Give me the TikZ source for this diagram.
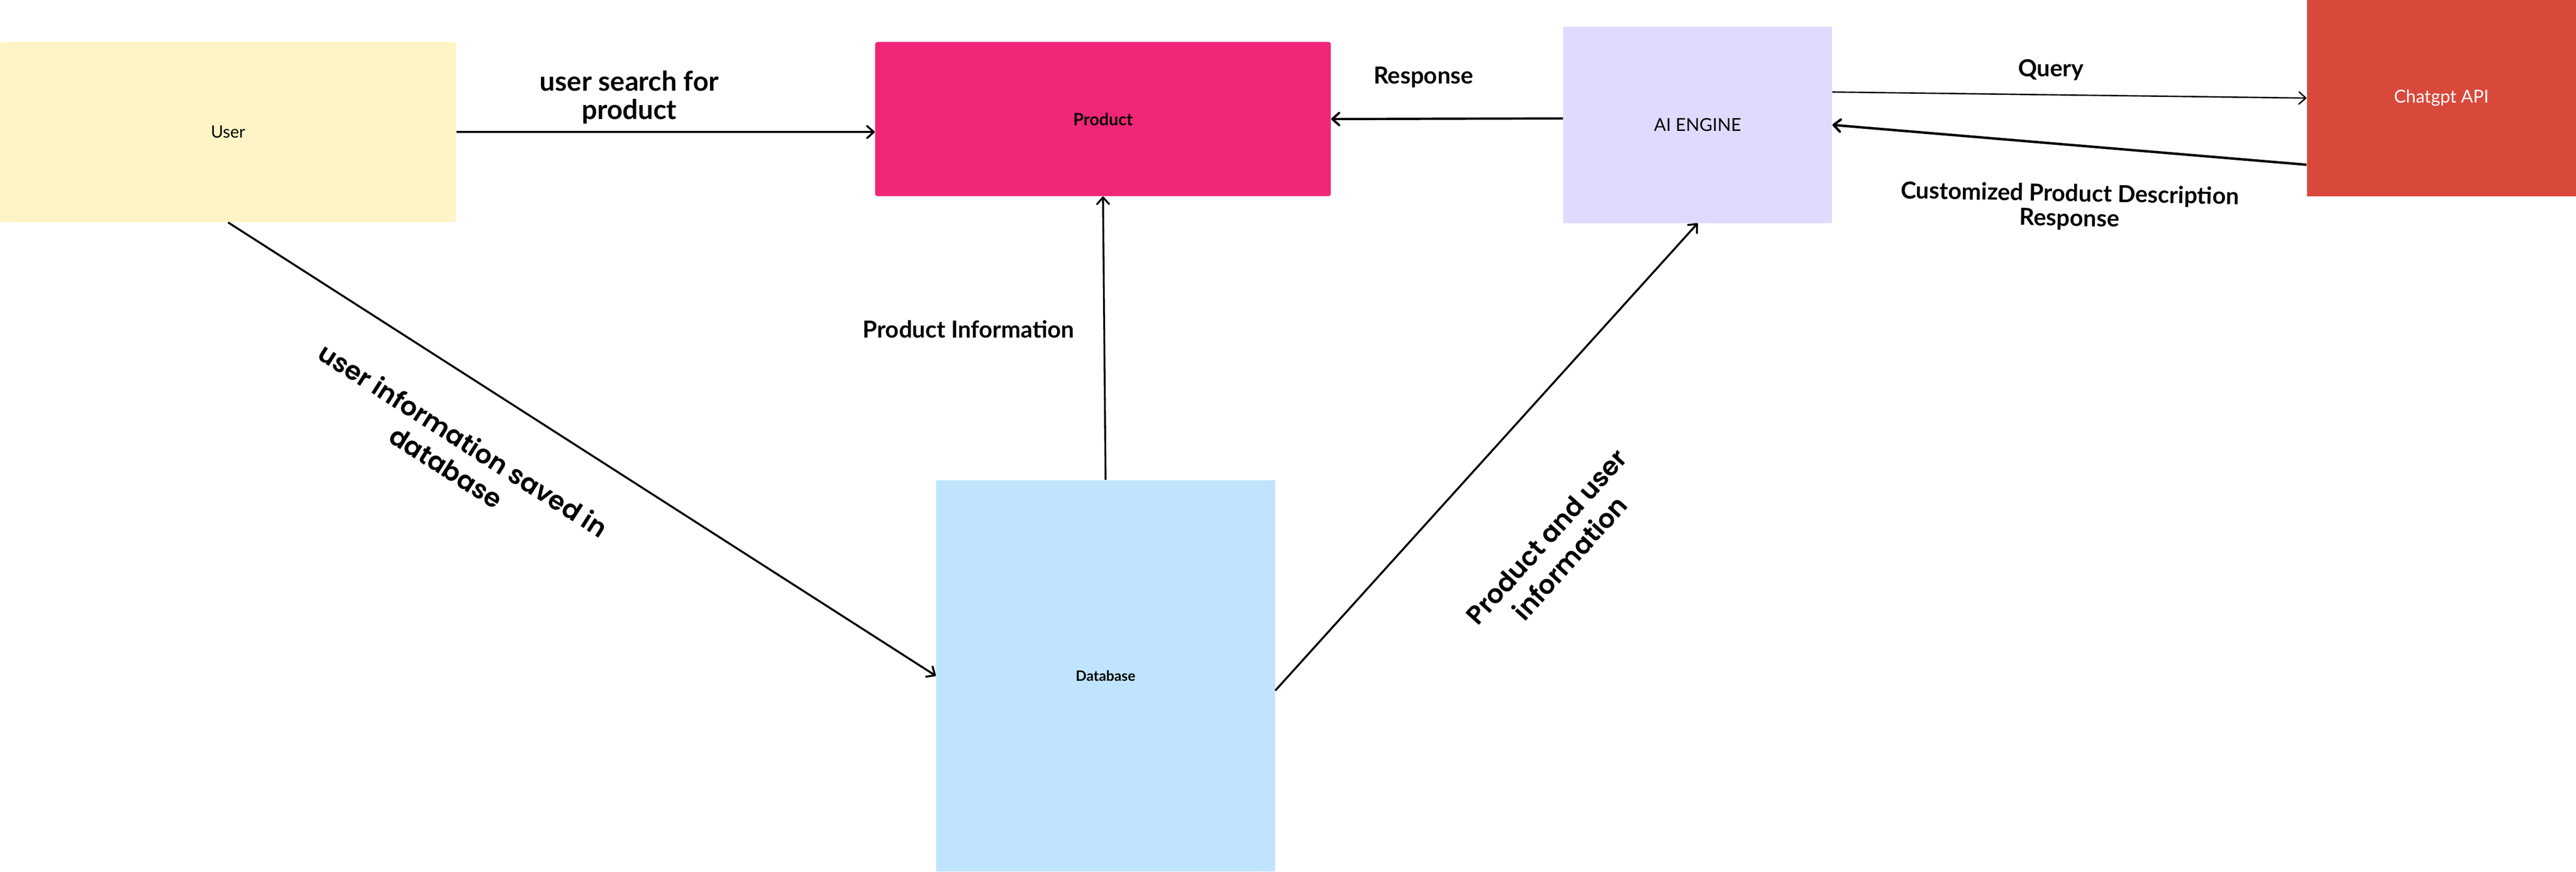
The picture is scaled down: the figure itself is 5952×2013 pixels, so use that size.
\documentclass[tikz,border=0pt]{standalone}
\usepackage{fontspec}
\setmainfont{Lato}
\newfontfamily\rotfont{Poppins}[UprightFont=* SemiBold]
\usetikzlibrary{positioning,calc,arrows.meta}
\tikzset{>={Straight Barb[length=4.5pt,width=8pt,round]}}
\definecolor{userfill}{RGB}{254,244,197}
\definecolor{prodfill}{RGB}{240,38,120}
\definecolor{aifill}{RGB}{224,218,254}
\definecolor{dbfill}{RGB}{192,228,254}
\definecolor{gptfill}{RGB}{216,73,60}
\newcommand*{\fs}[2]{\fontsize{#1}{#2}\selectfont}

\begin{document}
\begin{tikzpicture}[x=0.1mm,y=-0.1mm,
  box/.style={rectangle,inner sep=0pt,align=center},
  lbl/.style={inner sep=0pt,align=center,font={\fs{15.4}{16.2}\bfseries}},
  rotlbl/.style={inner sep=0pt,align=center,font={\fs{17}{21}\rotfont}}]
\useasboundingbox (0,0) rectangle (5952,2013);
% Draw the boxes
\node[box,fill=userfill,rounded corners=0.5mm,minimum width=105.4mm,minimum height=41.6mm,font=\fs{11.1}{13}] (user) at (527,305) {User};
\node[box,fill=prodfill,rounded corners=0.5mm,minimum width=105.3mm,minimum height=35.6mm,font=\fs{11.1}{13}\bfseries] (product) at (2548.5,275) {Product};
\node[box,fill=aifill,minimum width=62.1mm,minimum height=45.3mm,font=\fs{11.7}{14}] (ai) at (3922.5,288.5) {AI ENGINE};
\node[box,fill=gptfill,text=white,minimum width=62.2mm,minimum height=45.3mm,font=\fs{11.7}{14}] (gpt) at (5641,226.5) {Chatgpt API};
\node[box,fill=dbfill,minimum width=78.3mm,minimum height=90.4mm,font=\fs{9.4}{11}\bfseries] (db) at (2554.5,1561) {Database};
% Draw the arrows between them
\draw[->,line width=1.3pt] (user.east) -- (user.east -| product.west);
\draw[->,line width=1.5pt] ($(ai.west)+(0,-15)$) -- (product.east);
\draw[->,line width=0.9pt] ($(ai.east)+(0,-76)$) -- (gpt.west);
\draw[->,line width=1.6pt] ($(gpt.west)+(0,154)$) -- (ai.east);
\draw[->,line width=1.3pt] (user.south) -- (db.west);
\draw[->,line width=1.2pt] (db.north) -- (product.south);
\draw[->,line width=1.3pt] ($(db.east)+(0,34)$) -- (ai.south);
% Arrow labels
\node[lbl,font={\fs{17.9}{18.8}\bfseries}] (searchlbl) at (1454,225) {user search for\\product};
\node[lbl] (prodinfolbl) at (2238,760) {Product Information};
\node[lbl] (resplbl) at (3289,178) {Response};
\node[lbl] (querylbl) at (4739,162) {Query};
\node[lbl,rotate=-1] (customlbl) at (4782,478) {Customized Product Description\\Response};
\node[rotlbl,rotate=-32.5] (savedlbl) at (1051,1047) {user information saved in\\database};
\node[rotlbl,rotate=48] (userinfolbl) at (3600,1264) {Product and user\\information};
\end{tikzpicture}
\end{document}
